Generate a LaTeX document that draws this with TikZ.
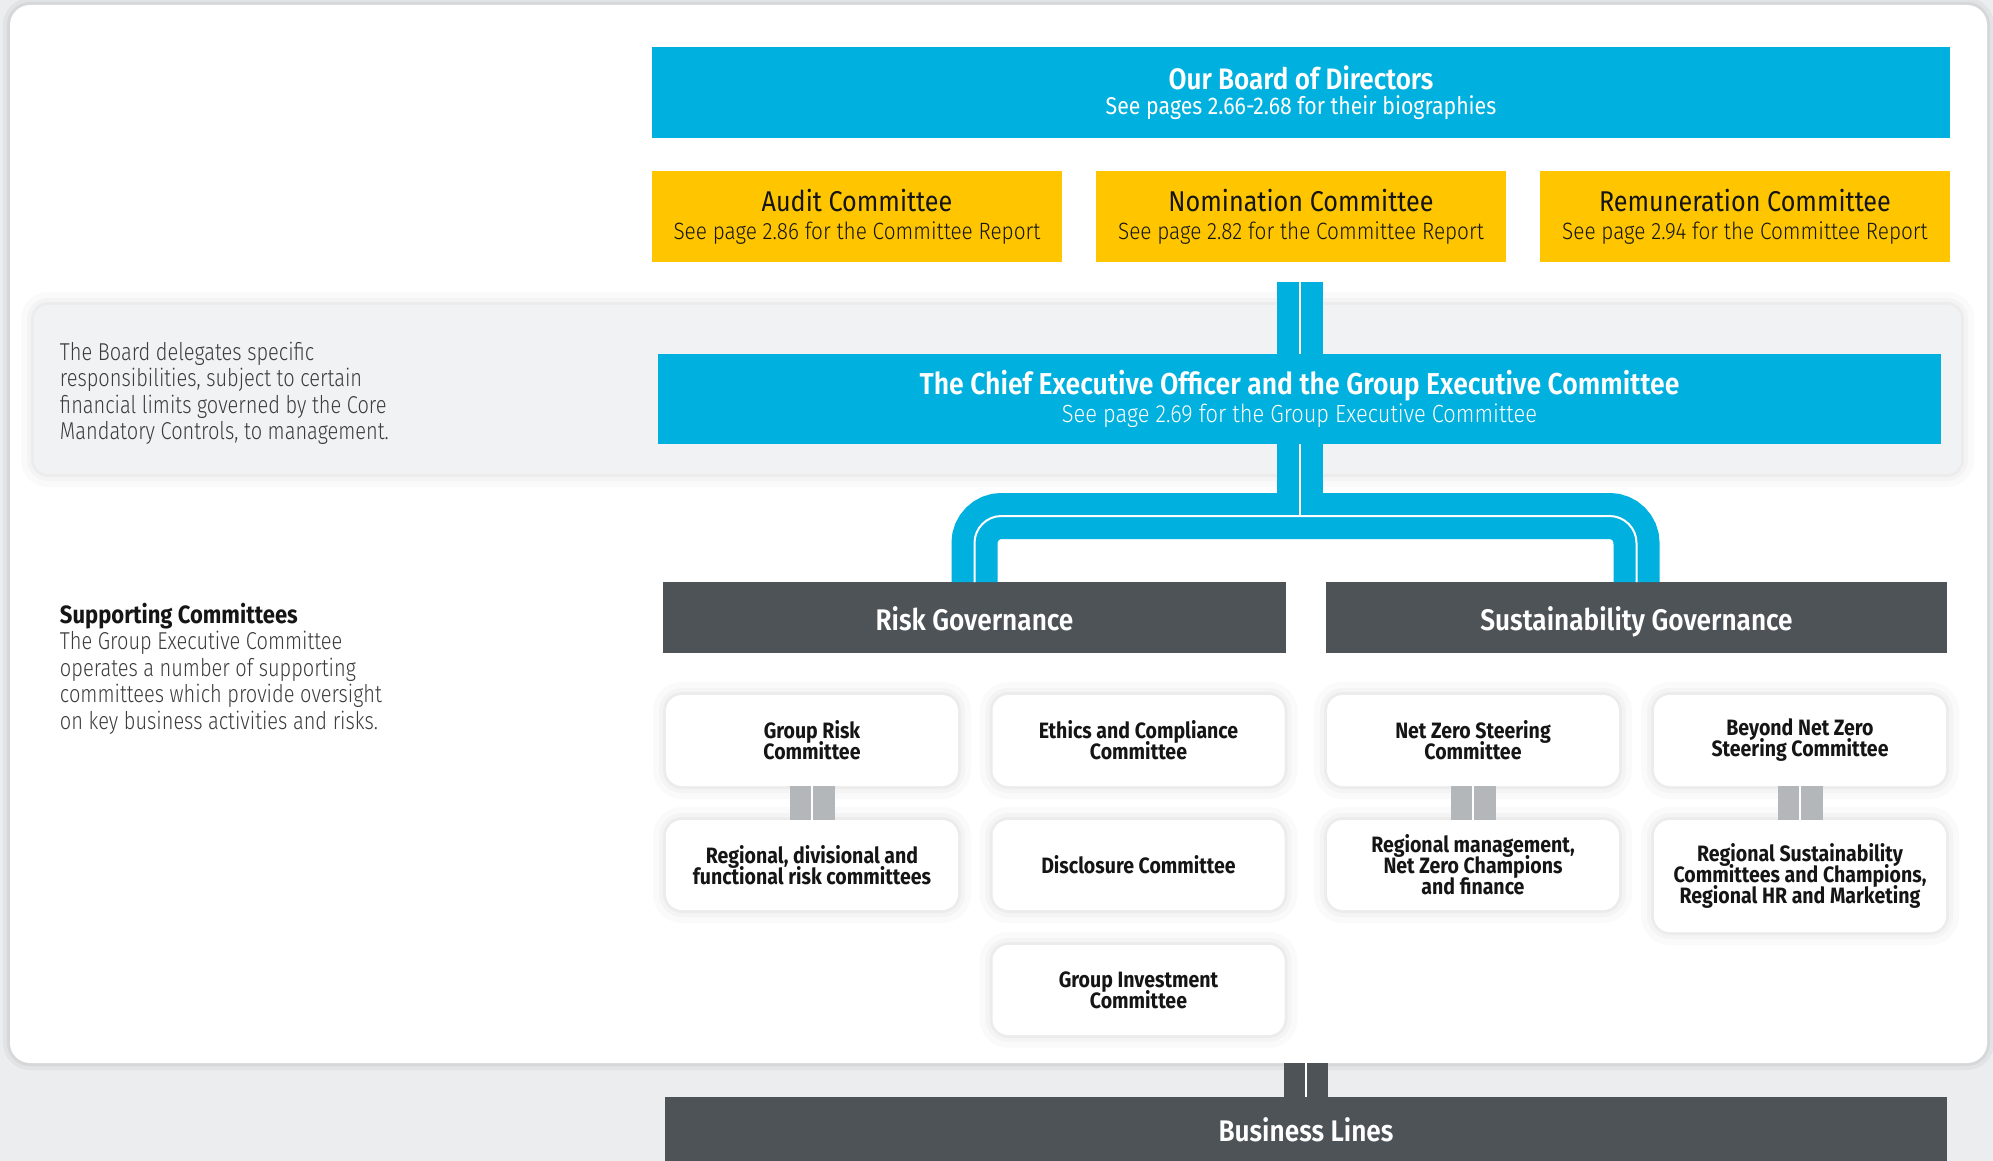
\documentclass[tikz,border=0pt]{standalone}
\usepackage{fontspec}
\setmainfont{Fira Sans}[FakeStretch=0.88]
\newfontfamily\lightf{Fira Sans Light}[FakeStretch=0.88]
\newfontfamily\bodyf{Fira Sans Light}[FakeStretch=0.82]
\newfontfamily\semif{Fira Sans SemiBold}[FakeStretch=0.88]
\newfontfamily\boldf{Fira Sans Bold}[FakeStretch=0.88]
\newcommand\fz[2]{\fontsize{#1pt}{#2pt}\selectfont\lineskiplimit=-20pt\relax}
\definecolor{cyanc}{HTML}{00B0DF}
\definecolor{yel}{HTML}{FFC600}
\definecolor{dark}{HTML}{4D5357}
\definecolor{lgray}{HTML}{B3B7BA}
\definecolor{bandc}{HTML}{F1F2F4}
\definecolor{bgc}{HTML}{ECEDEF}
\definecolor{txt}{HTML}{151515}
\definecolor{bodyc}{HTML}{3C3C3C}
\tikzset{
  every node/.style={inner sep=0pt, outer sep=0pt},
  softshadow/.style={
    preaction={draw=black, draw opacity=0.018, line width=13pt},
    preaction={draw=black, draw opacity=0.022, line width=7pt},
    preaction={draw=black, draw opacity=0.03, line width=3pt}},
  panelbox/.style={fill=white, rounded corners=10pt,
    preaction={draw=black, draw opacity=0.04, line width=7pt},
    preaction={draw=black, draw opacity=0.05, line width=3pt}},
  bandbox/.style={fill=bandc, rounded corners=7pt, softshadow},
  bluebox/.style={fill=cyanc, text=white, align=center},
  yelbox/.style={fill=yel, text=txt, align=center, minimum width=205pt, minimum height=45.5pt},
  govbox/.style={fill=dark, text=white, align=center, font=\semif\fz{14.9}{16},
    text height=12.6pt, text depth=0pt},
  cbox/.style={fill=white, rounded corners=8pt, align=center, text=txt,
    font=\boldf\fz{11.1}{10.5}, minimum width=146pt, minimum height=45.5pt, softshadow},
  bodytext/.style={anchor=west, align=left, text=bodyc, font=\bodyf\fz{12.2}{13.25}},
  bluelane/.style={draw=cyanc, line width=23pt},
  graylane/.style={draw=lgray, line width=22.5pt},
  darklane/.style={draw=dark, line width=22pt},
  divider/.style={draw=white, line width=1pt},
}
\begin{document}
\begin{tikzpicture}[x=0.5pt,y=-0.5pt]
\fill[bgc] (0,0) rectangle (1993,1161);
\useasboundingbox (0,0) rectangle (1993,1161);

% panels
\node[panelbox, minimum width=988.5pt, minimum height=529pt] (panel) at (998.5,534) {};
\node[bandbox, minimum width=963.5pt, minimum height=84.5pt] (band) at (997.5,389.5) {};

% board
\node[bluebox, minimum width=649pt, minimum height=45.5pt, font=\fz{12}{12.75}] (board) at (1301,92.5)
  {{\semif\fz{14.8}{12.75}Our Board of Directors}\\{\fz{12.1}{12.75}See pages 2.66-2.68 for their biographies}};

% committees of the board
\node[yelbox, font=\fz{12}{14}] (audit) at (857,216.5)
  {{\fz{14.3}{14}Audit Committee}\\{\lightf\fz{11.8}{14}See page 2.86 for the Committee Report}};
\node[yelbox, font=\fz{12}{14}] (nomination) at (1301,216.5)
  {{\fz{14.3}{14}Nomination Committee}\\{\lightf\fz{11.8}{14}See page 2.82 for the Committee Report}};
\node[yelbox, font=\fz{12}{14}] (remuneration) at (1745,216.5)
  {{\fz{14.3}{14}Remuneration Committee}\\{\lightf\fz{11.8}{14}See page 2.94 for the Committee Report}};

% CEO
\node[bluebox, minimum width=641.5pt, minimum height=45pt, font=\fz{12}{13.75}] (ceo) at (1299.5,399)
  {{\semif\fz{15.1}{13.75}The Chief Executive Officer and the Group Executive Committee}\\{\lightf\fz{12.4}{13.75}See page 2.69 for the Group Executive Committee}};

% left texts
\node[bodytext] (delegate) at (60,393.5)
  {The Board delegates specific\\responsibilities, subject to certain\\financial limits governed by the Core\\Mandatory Controls, to management.};
\node[bodytext] (supporting) at (60,668.7)
  {{\boldf\fz{12.5}{13.25}\color{txt}Supporting Committees}\\The Group Executive Committee\\operates a number of supporting\\committees which provide oversight\\on key business activities and risks.};

% governance headers
\node[govbox, minimum width=311.5pt, minimum height=35.5pt] (risk) at (974.5,617.5) {Risk Governance};
\node[govbox, minimum width=310.5pt, minimum height=35.5pt] (sust) at (1636.5,617.5) {Sustainability Governance};

% supporting committees
\node[cbox] (grc) at (812,740.5) {Group Risk\\Committee};
\node[cbox] (ethics) at (1138.5,740.5) {Ethics and Compliance\\Committee};
\node[cbox, minimum height=45pt] (regrisk) at (812,865) {Regional, divisional and\\functional risk committees};
\node[cbox, minimum height=45pt] (disc) at (1138.5,865) {Disclosure Committee};
\node[cbox, minimum height=45pt] (gic) at (1138.5,990) {Group Investment\\Committee};
\node[cbox] (nz) at (1473,740.5) {Net Zero Steering\\Committee};
\node[cbox] (bnz) at (1800,740.5) {Beyond Net Zero\\Steering Committee};
\node[cbox, minimum height=45pt] (regmgmt) at (1473,865) {Regional management,\\Net Zero Champions\\and finance};
\node[cbox, minimum height=56pt] (regsus) at (1800,876) {Regional Sustainability\\Committees and Champions,\\Regional HR and Marketing};

% business lines
\node[govbox, minimum width=641pt, minimum height=32pt] (business) at (1306,1129) {Business Lines};

% connectors
\coordinate (ctop) at ([yshift=36pt]ceo.north);
\coordinate (uy) at (1300,516);
\draw[bluelane] (ctop) -- (ceo.north);
\draw[divider] (ctop) -- (ceo.north);
\draw[bluelane] (ceo.south) -- (ceo.south |- uy);
\draw[bluelane, rounded corners=13.5pt] (risk.north) -- (risk.north |- uy) -- (sust.north |- uy) -- (sust.north);
\draw[divider] (ceo.south) -- (ceo.south |- uy);
\draw[divider, rounded corners=13.5pt] (risk.north) -- (risk.north |- uy) -- (sust.north |- uy) -- (sust.north);

\foreach \a/\b in {grc/regrisk, nz/regmgmt, bnz/regsus}{
  \draw[graylane] (\a.south) -- (\b.north);
  \draw[divider, line width=0.8pt] (\a.south) -- (\b.north);
}
\coordinate (bltop) at (panel.south -| business.north);
\draw[darklane] (bltop) -- (business.north);
\draw[divider] (bltop) -- (business.north);
\end{tikzpicture}
\end{document}
